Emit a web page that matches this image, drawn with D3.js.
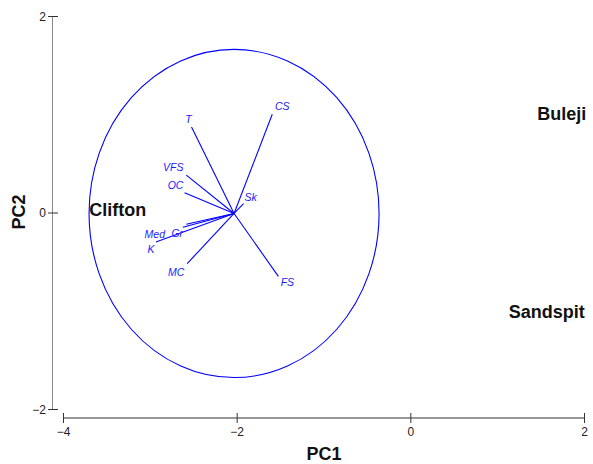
<!DOCTYPE html>
<html>
<head>
<meta charset="utf-8">
<script src="https://cdn.jsdelivr.net/npm/d3@7"></script>
<style>
  html, body { margin: 0; padding: 0; background: #fff; }
  svg { display: block; font-family: "Liberation Sans", Arial, sans-serif; }
</style>
</head>
<body>
<svg id="chart" width="593" height="464"></svg>
<script>
// PCA biplot of sediment variables and beach sites
const xTicks = [-4, -2, 0, 2];
const yTicks = [-2, 0, 2];

// Variable loadings (vector tips, in PC1/PC2 units)
const varNames = ["T", "CS", "VFS", "OC", "Sk", "Med", "Gr", "K", "MC", "FS"];
const varPC1   = [-2.52, -1.59, -2.58, -2.60, -1.92, -2.62, -2.58, -2.93, -2.57, -1.52];
const varPC2   = [ 0.87,  1.00,  0.38,  0.20,  0.09, -0.15, -0.12, -0.30, -0.52, -0.65];

// Site scores
const siteNames = ["Clifton", "Buleji", "Sandspit"];
const sitePC1   = [-3.37, 1.745, 1.57];
const sitePC2   = [ 0.03, 1.01, -1.01];

// Centre of the loading vectors and radius of the equilibrium circle
const centre = [-2.03, -0.01];
const circleRadius = 1.67;

const svg = d3.select("#chart");
const x = d3.scaleLinear().domain([-4, 2]).range([63, 584]);
const y = d3.scaleLinear().domain([-2, 2]).range([409, 16]);

const xAxisY = 418;
const yAxisX = 52.5;

// X axis
const gx = svg.append("g")
  .attr("transform", `translate(0,${xAxisY})`)
  .call(d3.axisBottom(x).tickValues(xTicks).tickSize(5).tickSizeOuter(0).tickFormat(d3.format("d")));
gx.select(".domain").attr("stroke", "#333").attr("d", `M${x(-4)},0H${x(2)}`);
gx.selectAll(".tick line").attr("stroke", "#333").attr("y1", -5).attr("y2", 5);
gx.selectAll(".tick text")
  .attr("y", 9).attr("dy", "0.71em")
  .attr("font-size", 12).attr("fill", "#222")
  .attr("font-family", "Liberation Sans, Arial, sans-serif");

// Y axis
const gy = svg.append("g")
  .attr("transform", `translate(${yAxisX},0)`)
  .call(d3.axisLeft(y).tickValues(yTicks).tickSize(5).tickSizeOuter(0).tickFormat(d3.format("d")));
gy.select(".domain").attr("stroke", "#888").attr("d", `M0,${y(2)}V${y(-2)}`);
gy.selectAll(".tick line").attr("stroke", "#333").attr("x1", -4.5).attr("x2", 5.5);
gy.selectAll(".tick text")
  .attr("x", -6.5).attr("dy", "0.35em")
  .attr("font-size", 12).attr("fill", "#222")
  .attr("font-family", "Liberation Sans, Arial, sans-serif");

// Axis titles
svg.append("text")
  .attr("x", 324).attr("y", 460)
  .attr("text-anchor", "middle")
  .attr("font-size", 18).attr("font-weight", "bold").attr("fill", "#111")
  .text("PC1");
svg.append("text")
  .attr("transform", "translate(25,212) rotate(-90)")
  .attr("text-anchor", "middle")
  .attr("font-size", 18).attr("font-weight", "bold").attr("fill", "#111")
  .text("PC2");

// Equilibrium circle
const cx = x(centre[0]), cy = y(centre[1]);
svg.append("ellipse")
  .attr("cx", cx).attr("cy", cy)
  .attr("rx", x(centre[0] + circleRadius) - cx)
  .attr("ry", cy - y(centre[1] + circleRadius))
  .attr("fill", "none").attr("stroke", "#0000ff").attr("stroke-width", 1.1);

// Loading vectors
const vars = varNames.map((n, i) => ({ name: n, pc1: varPC1[i], pc2: varPC2[i] }));
svg.append("g").selectAll("line").data(vars).join("line")
  .attr("x1", cx).attr("y1", cy)
  .attr("x2", d => x(d.pc1)).attr("y2", d => y(d.pc2))
  .attr("stroke", "#0000ff").attr("stroke-width", 1.1);

// Label nudges (pixels) so crowded labels stay readable
const labelNudge = {
  T: [-3, -8], CS: [10, -8], VFS: [-13, -8], OC: [-9, -8], Sk: [7, -6],
  Med: [-28, 7], Gr: [-9, 9.5], K: [-5, 7], MC: [-11, 9], FS: [9, 5.5]
};
svg.append("g").selectAll("text").data(vars).join("text")
  .attr("x", d => x(d.pc1) + labelNudge[d.name][0])
  .attr("y", d => y(d.pc2) + labelNudge[d.name][1])
  .attr("dy", "0.35em")
  .attr("text-anchor", "middle")
  .attr("font-size", 10.5).attr("font-style", "italic").attr("fill", "#1a1aff")
  .text(d => d.name);

// Site labels
const sites = siteNames.map((n, i) => ({ name: n, pc1: sitePC1[i], pc2: sitePC2[i] }));
svg.append("g").selectAll("text").data(sites).join("text")
  .attr("x", d => x(d.pc1)).attr("y", d => y(d.pc2))
  .attr("dy", "0.35em")
  .attr("text-anchor", "middle")
  .attr("font-size", 18).attr("font-weight", "bold").attr("fill", "#111")
  .text(d => d.name);
</script>
</body>
</html>
